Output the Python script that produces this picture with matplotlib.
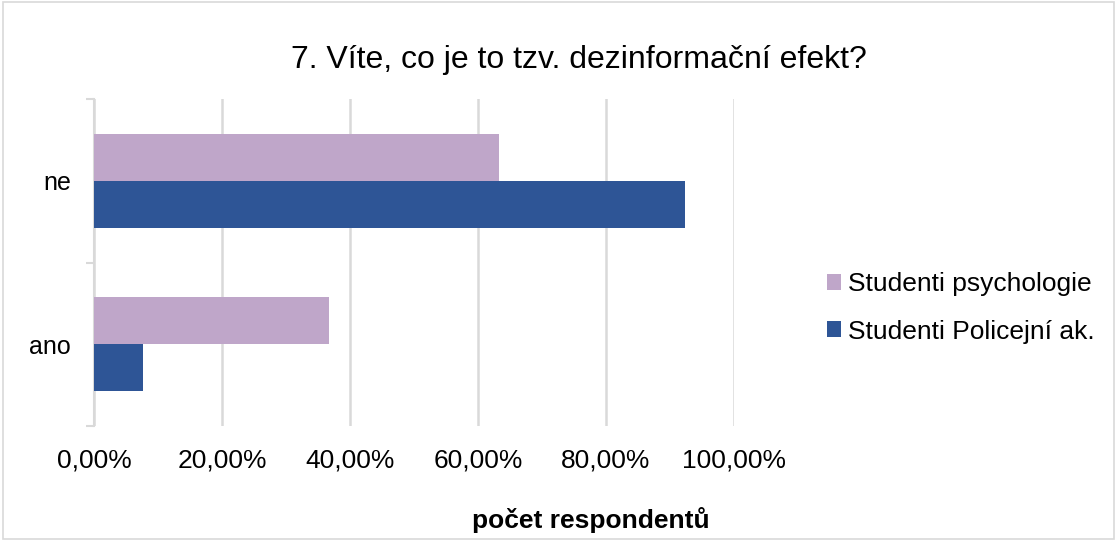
import matplotlib.pyplot as plt
from matplotlib.ticker import FuncFormatter
from matplotlib.patches import Rectangle

DPI = 100

categories = ['ano', 'ne']
series_names = ['Studenti psychologie', 'Studenti Policejní ak.']
psych_values = [36.7, 63.3]
police_values = [7.7, 92.3]
colors = ['#BFA6C9', '#2E5596']
x_ticks = [0, 20, 40, 60, 80, 100]

plt.rcParams['font.family'] = ['Liberation Sans', 'DejaVu Sans']

fig = plt.figure(figsize=(1117 / DPI, 541 / DPI), dpi=DPI)
ax = fig.add_axes([94 / 1117, 1 - 426 / 541, (734 - 94) / 1117, (426 - 99) / 541])

# Bars: psychology above, police below each category centre
bar_h = 0.287
pos = list(range(len(categories)))
ax.barh([p + bar_h / 2 for p in pos], psych_values, height=bar_h, color=colors[0],
        label=series_names[0], zorder=3)
ax.barh([p - bar_h / 2 for p in pos], police_values, height=bar_h, color=colors[1],
        label=series_names[1], zorder=3)

ax.set_xlim(0, 100)
ax.set_ylim(-0.5, len(categories) - 0.5)

ax.set_xticks(x_ticks)
ax.xaxis.set_major_formatter(FuncFormatter(lambda v, _: f"{v:.2f}".replace('.', ',') + '%'))
ax.tick_params(axis='x', length=0, labelsize=19, pad=16)
ax.grid(axis='x', color='#D9D9D9', linewidth=1.8, zorder=0)

ax.set_yticks(pos)
ax.set_yticklabels(categories)
ax.set_yticks([-0.5, 0.5, 1.5], minor=True)
ax.tick_params(axis='y', which='major', length=0, labelsize=18, pad=16.5)
ax.tick_params(axis='y', which='minor', length=6, width=1.5, color='#D9D9D9')

for side in ['top', 'right', 'bottom']:
    ax.spines[side].set_visible(False)
ax.spines['left'].set_color('#D9D9D9')
ax.spines['left'].set_linewidth(1.5)

# axis title sits near the figure centre, not under the plot area
ax.set_xlabel('počet respondentů', fontsize=19, fontweight='bold', labelpad=24)
ax.xaxis.set_label_coords(591 / 1117, 0, transform=fig.transFigure)
ax.xaxis.label.set_va('center')
ax.xaxis.label.set_position((591 / 1117, 1 - 520 / 541))

fig.text(579 / 1117, 1 - 60 / 541, '7. Víte, co je to tzv. dezinformační efekt?',
         ha='center', va='center', fontsize=23)

handles, labels = ax.get_legend_handles_labels()
ax.legend(handles, labels, loc='center left', bbox_to_anchor=(803 / 1117, 1 - 308 / 541),
          bbox_transform=fig.transFigure, frameon=False, fontsize=19,
          handlelength=0.55, handleheight=0.55, handletextpad=0.25, labelspacing=0.88)

# light frame around the whole chart
fig.patches.append(Rectangle((0.003, 0.003), 0.994, 0.994, transform=fig.transFigure,
                             fill=False, edgecolor='#D9D9D9', linewidth=1.2))

plt.savefig('out.png', dpi=DPI)
plt.close()
